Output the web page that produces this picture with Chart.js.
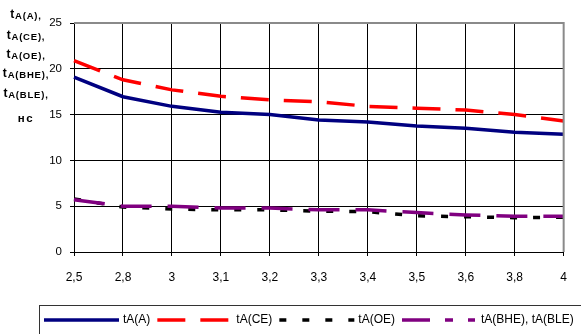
<!DOCTYPE html>
<html>
<head>
<meta charset="utf-8">
<script src="https://cdn.jsdelivr.net/npm/chart.js@4"></script>
<style>
  html, body { margin: 0; padding: 0; background: #fff; }
  #wrap { width: 581px; height: 334px; }
</style>
</head>
<body>
<div id="wrap"><canvas id="chart" width="581" height="334"></canvas></div>
<script>
// values
const xLabels = ['2,5', '2,8', '3', '3,1', '3,2', '3,3', '3,4', '3,5', '3,6', '3,8', '4'];
const tA_A = [19.1, 16.95, 15.9, 15.25, 15.0, 14.4, 14.2, 13.75, 13.5, 13.07, 12.85];
const tA_CE = [20.9, 18.8, 17.7, 17.0, 16.6, 16.4, 15.9, 15.7, 15.5, 15.0, 14.3];
const tA_OE = [5.8, 4.9, 4.7, 4.6, 4.6, 4.45, 4.4, 3.95, 3.85, 3.75, 3.8];
const tA_BHE = [5.7, 5.0, 5.0, 4.8, 4.8, 4.6, 4.6, 4.3, 4.05, 3.9, 3.9];
const yTitle = [['t', 'A(A),'], ['t', 'A(CE),'], ['t', 'A(OE),'], ['t', 'A(BHE),'], ['t', 'A(BLE),'], ['', 'нс']];

const FONT = '"Liberation Sans", Arial, sans-serif';

// gray frame on top/right of the plot, like the original
const frame = {
    id: 'frame',
    afterDatasetsDraw(chart) {
        const { ctx, chartArea: a } = chart;
        ctx.save();
        ctx.strokeStyle = '#8a8a8a';
        ctx.lineWidth = 2;
        ctx.beginPath();
        ctx.moveTo(a.left, a.top);
        ctx.lineTo(a.right, a.top);
        ctx.lineTo(a.right, a.bottom);
        ctx.stroke();
        ctx.restore();
    }
};

// stacked y-axis title with subscripts
const ytitle = {
    id: 'ytitle',
    afterDraw(chart) {
        const ctx = chart.ctx;
        ctx.save();
        ctx.fillStyle = '#000';
        ctx.textBaseline = 'alphabetic';
        const ys = [18, 39, 58, 77, 97, 122];
        yTitle.forEach((parts, i) => {
            const last = !parts[0];
            const subFont = (last ? 'bold 11.5px ' : 'bold 9.5px ') + FONT;
            ctx.letterSpacing = last ? '1.5px' : '0.8px';
            ctx.font = 'bold 12px ' + FONT;
            const w1 = ctx.measureText(parts[0]).width;
            ctx.font = subFont;
            const w2 = ctx.measureText(parts[1]).width;
            let x = 26 - (w1 + w2) / 2;
            ctx.font = 'bold 12px ' + FONT;
            ctx.fillText(parts[0], x, ys[i]);
            ctx.font = subFont;
            ctx.fillText(parts[1], x + w1, ys[i] + (last ? 0 : 1));
        });
        ctx.restore();
    }
};

// boxed legend at the bottom
const boxLegend = {
    id: 'boxLegend',
    afterDraw(chart) {
        const ctx = chart.ctx;
        ctx.save();
        ctx.fillStyle = '#fff';
        ctx.fillRect(39, 305, 560, 40);
        ctx.strokeStyle = '#333';
        ctx.lineWidth = 1;
        ctx.strokeRect(39.5, 305.5, 560, 40);
        ctx.font = '12px ' + FONT;
        ctx.textBaseline = 'middle';
        let x = 44;
        const y = 320;
        chart.data.datasets.forEach(ds => {
            ctx.save();
            ctx.strokeStyle = ds.borderColor;
            ctx.lineWidth = 3.5;
            ctx.setLineDash(ds.legendDash || ds.borderDash || []);
            ctx.beginPath();
            ctx.moveTo(x, y);
            ctx.lineTo(x + 75, y);
            ctx.stroke();
            ctx.restore();
            x += 79;
            ctx.fillStyle = '#000';
            ctx.fillText(ds.label, x, y);
            x += ctx.measureText(ds.label).width + 7;
        });
        ctx.restore();
    }
};

const ctx = document.getElementById('chart').getContext('2d');
const chart = new Chart(ctx, {
    type: 'line',
    data: {
        labels: xLabels,
        datasets: [
            { label: 'tA(A)', data: tA_A, borderColor: '#000080', borderWidth: 3.5, borderDash: [], order: 3 },
            { label: 'tA(CE)', data: tA_CE, borderColor: '#ff0000', borderWidth: 3.5, borderDash: [28, 15], order: 2 },
            { label: 'tA(OE)', data: tA_OE, borderColor: '#000000', borderWidth: 3.5, borderDash: [7, 16], order: 1 },
            { label: 'tA(BHE), tA(BLE)', data: tA_BHE, borderColor: '#800080', borderWidth: 3.5, borderDash: [31, 16],
              legendDash: [28, 15, 8, 15, 7, 15], order: 0 }
        ]
    },
    options: {
        responsive: false,
        animation: false,
        layout: { padding: { top: 23, right: 16, left: 0, bottom: 0 } },
        elements: {
            point: { radius: 0 },
            line: { tension: 0, fill: false, borderCapStyle: 'butt' }
        },
        plugins: {
            legend: { display: false },
            tooltip: { enabled: false }
        },
        scales: {
            x: {
                offset: false,
                grid: { color: '#000', lineWidth: 1, tickLength: 4 },
                border: { color: '#000', width: 1 },
                ticks: { color: '#000', font: { family: FONT, size: 12 }, padding: 14, maxRotation: 0, autoSkip: false },
                afterFit(scale) { scale.height = 82; }
            },
            y: {
                min: 0,
                max: 25,
                ticks: { stepSize: 5, color: '#000', font: { family: FONT, size: 11.5 }, padding: 8 },
                grid: { color: '#000', lineWidth: 1, tickLength: 4 },
                border: { color: '#000', width: 1 },
                afterFit(scale) { scale.width = 74; }
            }
        }
    },
    plugins: [frame, ytitle, boxLegend]
});
</script>
</body>
</html>
